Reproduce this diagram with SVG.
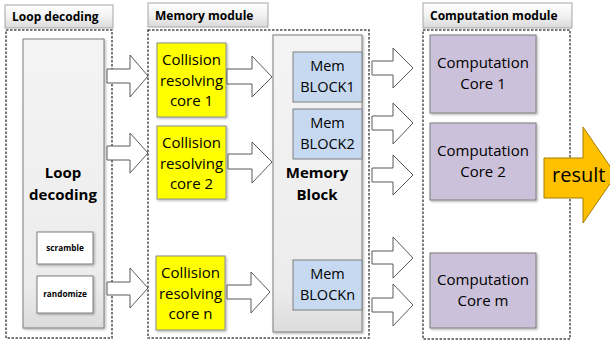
<svg xmlns="http://www.w3.org/2000/svg" width="610" height="343" viewBox="0 0 610 343">
<defs>
<linearGradient id="gLabel" x1="0" y1="0" x2="0" y2="1">
<stop offset="0" stop-color="#ffffff"/>
<stop offset="0.5" stop-color="#f2f2f2"/>
<stop offset="1" stop-color="#d9d9d9"/>
</linearGradient>
<linearGradient id="gGray" x1="0" y1="0" x2="0" y2="1">
<stop offset="0" stop-color="#f4f4f4"/>
<stop offset="0.85" stop-color="#ececec"/>
<stop offset="1" stop-color="#dcdcdc"/>
</linearGradient>
<filter id="sh" x="-10%" y="-10%" width="130%" height="130%">
<feDropShadow dx="1.2" dy="1.2" stdDeviation="0.8" flood-color="#000" flood-opacity="0.3"/>
</filter>
</defs>
<style>
.lbl{fill:url(#gLabel);stroke:#a6a6a6;stroke-width:1}
.lt{font-family:"Open Sans","DejaVu Sans",sans-serif;font-weight:bold;font-size:12px;fill:#000}
.dash{fill:none;stroke:#4d4d4d;stroke-width:1.5;stroke-dasharray:2.5 1.5}
.gray{fill:url(#gGray);stroke:#7f7f7f;stroke-width:1}
.small{fill:#fff;stroke:#7f7f7f;stroke-width:1}
.st{font-family:"Open Sans","DejaVu Sans",sans-serif;font-weight:bold;font-size:8.2px;fill:#000;text-anchor:middle}
.big{font-family:"Open Sans","DejaVu Sans",sans-serif;font-weight:bold;font-size:15px;fill:#000;text-anchor:middle}
.yel{fill:#ffff00;stroke:#8c8c8c;stroke-width:1}
.blu{fill:#c6d9f1;stroke:#7f7f7f;stroke-width:1}
.pur{fill:#ccc1da;stroke:#7f7f7f;stroke-width:1}
.t{font-family:"Open Sans","DejaVu Sans",sans-serif;font-size:15px;fill:#000;text-anchor:middle}
.tm{font-family:"Open Sans","DejaVu Sans",sans-serif;font-size:14.5px;fill:#000;text-anchor:middle}
.arr{fill:#fff;stroke:#595959;stroke-width:1;stroke-linejoin:miter}
</style>

<g id="loop-decoding-module">
<rect class="lbl" x="5" y="5" width="108" height="23"/>
<text class="lt" x="12" y="21">Loop decoding</text>
<rect class="dash" x="6" y="30" width="106" height="308"/>
</g>
<g id="loop-decoding">
<rect class="gray" x="23" y="39" width="81" height="289" filter="url(#sh)"/>
<text class="big" x="63" y="178">Loop</text>
<text class="big" x="63" y="200">decoding</text>
</g>
<g id="scramble">
<rect class="small" x="37" y="232" width="56" height="32" filter="url(#sh)"/>
<text class="st" x="65" y="251">scramble</text>
</g>
<g id="randomize">
<rect class="small" x="37" y="276" width="56" height="37" filter="url(#sh)"/>
<text class="st" x="65" y="297">randomize</text>
</g>

<g id="memory-module">
<rect class="lbl" x="148" y="3" width="120" height="24"/>
<text class="lt" x="155" y="20">Memory module</text>
<rect class="dash" x="148" y="30" width="221" height="308"/>
</g>
<g id="collision-core-1">
<rect class="yel" x="157" y="43" width="69" height="74" filter="url(#sh)"/>
<text class="t" x="191.5" y="65">Collision</text>
<text class="t" x="191.5" y="86">resolving</text>
<text class="t" x="191.5" y="106">core 1</text>
</g>
<g id="collision-core-2">
<rect class="yel" x="157" y="126" width="69" height="73" filter="url(#sh)"/>
<text class="t" x="191.5" y="148">Collision</text>
<text class="t" x="191.5" y="169">resolving</text>
<text class="t" x="191.5" y="189">core 2</text>
</g>
<g id="collision-core-n">
<rect class="yel" x="156" y="256" width="69" height="74" filter="url(#sh)"/>
<text class="t" x="190.5" y="278">Collision</text>
<text class="t" x="190.5" y="299">resolving</text>
<text class="t" x="190.5" y="319">core n</text>
</g>
<g id="memory-block">
<rect class="gray" x="273" y="35" width="89" height="297" filter="url(#sh)"/>
<text class="big" x="317" y="178">Memory</text>
<text class="big" x="317" y="200">Block</text>
</g>
<g id="mem-block-1">
<rect class="blu" x="293" y="52" width="69" height="50"/>
<text class="tm" x="327.5" y="71">Mem</text>
<text class="tm" x="327.5" y="92">BLOCK1</text>
</g>
<g id="mem-block-2">
<rect class="blu" x="293" y="109" width="69" height="50"/>
<text class="tm" x="327.5" y="128">Mem</text>
<text class="tm" x="327.5" y="149">BLOCK2</text>
</g>
<g id="mem-block-n">
<rect class="blu" x="293" y="260" width="69" height="50"/>
<text class="tm" x="327.5" y="279">Mem</text>
<text class="tm" x="327.5" y="300">BLOCKn</text>
</g>

<g id="computation-module">
<rect class="lbl" x="423" y="3" width="149" height="25"/>
<text class="lt" x="430" y="20">Computation module</text>
<rect class="dash" x="423" y="30" width="147" height="309"/>
</g>
<g id="computation-core-1">
<rect class="pur" x="430" y="35" width="106" height="78" filter="url(#sh)"/>
<text class="t" x="483" y="68">Computation</text>
<text class="t" x="483" y="89">Core 1</text>
</g>
<g id="computation-core-2">
<rect class="pur" x="430" y="123" width="106" height="77" filter="url(#sh)"/>
<text class="t" x="483" y="156">Computation</text>
<text class="t" x="483" y="177">Core 2</text>
</g>
<g id="computation-core-m">
<rect class="pur" x="430" y="253" width="106" height="75" filter="url(#sh)"/>
<text class="t" x="483" y="285">Computation</text>
<text class="t" x="483" y="306">Core m</text>
</g>

<g id="connectors">
<path class="arr" d="M107,69 H130 V55 L148,76 L130,97 V83 H107 Z"/>
<path class="arr" d="M107,146 H130 V133 L148,153 L130,173 V160 H107 Z"/>
<path class="arr" d="M107,282 H130 V268 L148,288 L130,308 V295 H107 Z"/>
<path class="arr" d="M227,69 H252 V56 L272,77 L252,97 V84 H227 Z"/>
<path class="arr" d="M228,154 H252 V142 L272,162 L252,183 V169 H228 Z"/>
<path class="arr" d="M227,285 H251 V272 L270,292 L251,313 V299 H227 Z"/>
<path class="arr" d="M372,61 H393 V48 L413,68 L393,88 V75 H372 Z"/>
<path class="arr" d="M372,116 H393 V103 L413,123 L393,144 V130 H372 Z"/>
<path class="arr" d="M372,168 H393 V155 L413,175 L393,195 V182 H372 Z"/>
<path class="arr" d="M372,251 H393 V237 L413,258 L393,278 V264 H372 Z"/>
<path class="arr" d="M372,298 H393 V284 L413,305 L393,326 V312 H372 Z"/>
</g>

<g id="result">
<path d="M544,158 H583 V127 L616,175 L583,223 V198 H544 Z" fill="#ffc000" stroke="#a67c00" stroke-width="1"/>
<text x="552" y="182" font-family="'Open Sans','DejaVu Sans',sans-serif" font-size="20" fill="#000">result</text>
</g>
</svg>
